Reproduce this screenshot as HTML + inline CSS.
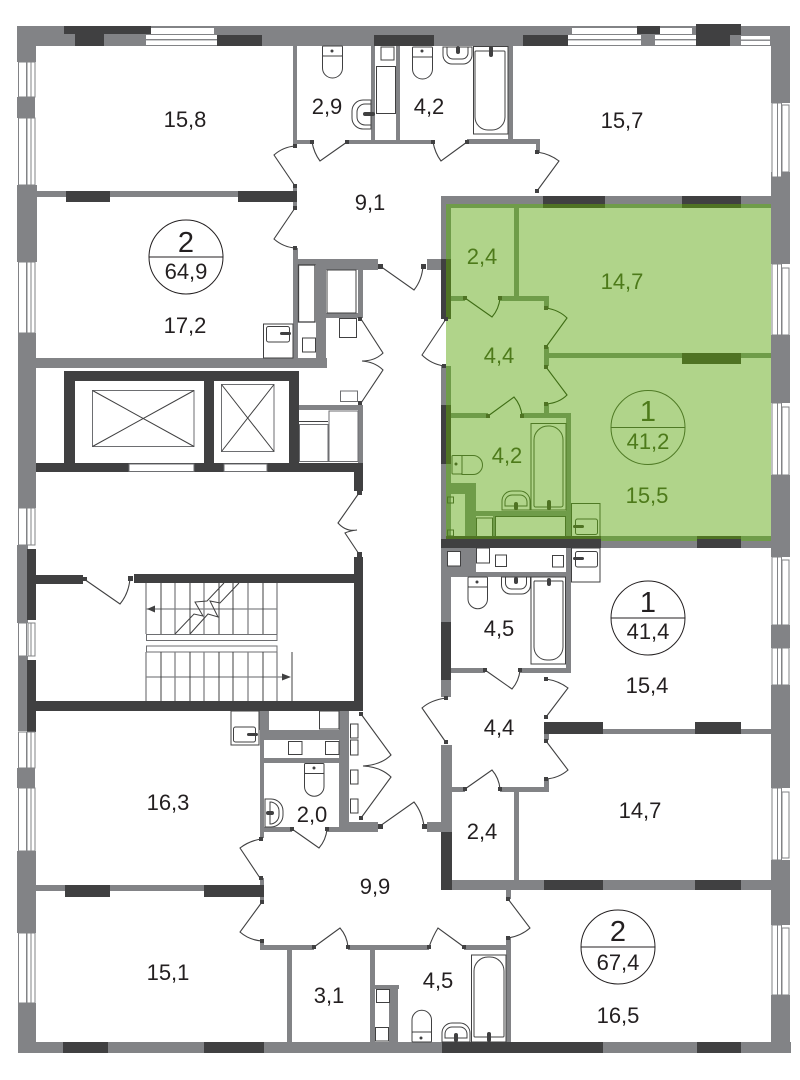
<!DOCTYPE html>
<html>
<head>
<meta charset="utf-8">
<style>
html,body{margin:0;padding:0;background:#fff;width:800px;height:1080px;overflow:hidden}
svg{display:block}
text{font-family:"Liberation Sans",Arial,sans-serif;font-size:22px;text-anchor:middle;fill:#231f20}
.g text{fill:#4d7a1a}
text.big{font-size:29px}
</style>
</head>
<body>
<svg width="800" height="1080" viewBox="0 0 800 1080" xmlns="http://www.w3.org/2000/svg">
<rect width="800" height="1080" fill="#fff"/>

<!-- green apartment -->
<rect x="446" y="204" width="325" height="336" fill="#b0d48a"/>

<!-- gray walls -->
<g fill="#828386">
<rect x="17" y="26" width="773" height="20"/>
<rect x="17" y="26" width="19" height="36"/>
<rect x="17" y="97" width="18" height="21"/>
<rect x="17" y="185" width="20" height="77"/>
<rect x="18" y="333" width="18" height="175"/>
<rect x="17" y="545" width="11" height="78"/>
<rect x="18" y="656" width="10" height="75"/>
<rect x="17" y="768" width="18" height="20"/>
<rect x="17" y="851" width="19" height="82"/>
<rect x="18" y="1003" width="18" height="50"/>
<rect x="18" y="1042" width="773" height="11"/>
<rect x="771" y="26" width="19" height="77"/>
<rect x="771" y="172" width="19" height="92"/>
<rect x="771" y="335" width="19" height="68"/>
<rect x="771" y="475" width="19" height="82"/>
<rect x="771" y="625" width="19" height="23"/>
<rect x="771" y="685" width="19" height="103"/>
<rect x="771" y="860" width="19" height="65"/>
<rect x="771" y="995" width="19" height="58"/>
<!-- top-left apt -->
<rect x="36" y="191" width="261" height="6"/>
<rect x="293" y="46" width="4" height="96"/>
<rect x="293" y="140" width="19" height="4"/>
<rect x="347" y="140" width="86" height="4"/>
<rect x="467" y="139" width="73" height="5"/>
<rect x="536" y="139" width="4" height="13"/>
<rect x="371" y="46" width="4" height="95"/>
<rect x="396" y="46" width="4" height="95"/>
<rect x="508" y="46" width="5" height="95"/>
<rect x="293" y="186" width="4" height="22"/>
<rect x="293" y="248" width="5" height="110"/>
<rect x="297" y="259" width="81" height="6"/>
<rect x="316" y="259" width="62" height="11"/>
<rect x="36" y="358" width="291" height="10"/>
<rect x="316" y="259" width="10" height="109"/>
<rect x="358" y="264" width="5" height="54"/>
<rect x="326" y="313" width="37" height="5"/>
<rect x="427" y="259" width="15" height="11"/>
<rect x="441" y="196" width="5" height="64"/>
<rect x="441" y="196" width="330" height="8"/>
<rect x="441" y="366" width="5" height="39"/>
<rect x="441" y="464" width="5" height="76"/>
<rect x="299" y="405" width="64" height="5"/>
<rect x="358" y="405" width="5" height="60"/>
<rect x="601" y="541" width="170" height="7"/>
<!-- lower right apt -->
<rect x="441" y="548" width="24" height="29"/>
<rect x="465" y="548" width="11" height="29"/>
<rect x="441" y="572" width="130" height="5"/>
<rect x="566" y="548" width="5" height="125"/>
<rect x="441" y="577" width="10" height="45"/>
<rect x="441" y="680" width="10" height="17"/>
<rect x="451" y="668" width="34" height="5"/>
<rect x="520" y="668" width="51" height="5"/>
<rect x="603" y="729" width="168" height="5"/>
<rect x="544" y="734" width="5" height="6"/>
<rect x="544" y="779" width="5" height="13"/>
<rect x="451" y="787" width="14" height="5"/>
<rect x="500" y="787" width="49" height="5"/>
<rect x="514" y="792" width="5" height="90"/>
<rect x="441" y="745" width="11" height="87"/>
<rect x="427" y="822" width="14" height="10"/>
<rect x="452" y="880" width="319" height="10"/>
<rect x="506" y="890" width="5" height="9"/>
<rect x="506" y="938" width="5" height="104"/>
<!-- lower left apt -->
<rect x="259" y="711" width="10" height="19"/>
<rect x="260" y="730" width="79" height="10"/>
<rect x="260" y="740" width="4" height="98"/>
<rect x="264" y="758" width="75" height="5"/>
<rect x="264" y="827" width="28" height="5"/>
<rect x="327" y="827" width="51" height="5"/>
<rect x="339" y="711" width="10" height="121"/>
<rect x="349" y="822" width="29" height="10"/>
<rect x="36" y="885" width="228" height="6"/>
<rect x="260" y="878" width="4" height="24"/>
<rect x="260" y="940" width="4" height="10"/>
<rect x="260" y="945" width="54" height="5"/>
<rect x="348" y="945" width="81" height="5"/>
<rect x="464" y="945" width="47" height="5"/>
<rect x="287" y="950" width="5" height="92"/>
<rect x="370" y="950" width="5" height="92"/>
<rect x="375" y="985" width="24" height="4"/>
<rect x="389" y="985" width="9" height="57"/>
</g>

<!-- green walls -->
<g fill="#6f9c49">
<rect x="446" y="204" width="325" height="4"/>
<rect x="446" y="204" width="5" height="115"/>
<rect x="446" y="366" width="5" height="172"/>
<rect x="514" y="208" width="5" height="88"/>
<rect x="451" y="296" width="14" height="5"/>
<rect x="500" y="296" width="49" height="5"/>
<rect x="544" y="296" width="5" height="12"/>
<rect x="544" y="347" width="5" height="19"/>
<rect x="546" y="353" width="225" height="5"/>
<rect x="544" y="404" width="5" height="12"/>
<rect x="451" y="413" width="37" height="5"/>
<rect x="522" y="413" width="49" height="5"/>
<rect x="566" y="413" width="5" height="125"/>
<rect x="446" y="483" width="30" height="11"/>
<rect x="465" y="483" width="11" height="55"/>
<rect x="476" y="511" width="90" height="5"/>
<rect x="493" y="516" width="2" height="21"/>
<rect x="446" y="536" width="325" height="5"/>
</g>
<g fill="#4f7323">
<rect x="543" y="204" width="62" height="4"/>
<rect x="682" y="204" width="59" height="4"/>
<rect x="682" y="353" width="59" height="11"/>
<rect x="446" y="259" width="5" height="60"/>
<rect x="446" y="405" width="5" height="59"/>
<rect x="446" y="536" width="155" height="3"/>
<rect x="697" y="536" width="44" height="3"/>
</g>

<!-- dark walls -->
<g fill="#404041">
<rect x="64" y="26" width="87" height="8"/>
<rect x="75" y="34" width="29" height="12"/>
<rect x="217" y="35" width="45" height="11"/>
<rect x="374" y="35" width="60" height="11"/>
<rect x="523" y="35" width="45" height="11"/>
<rect x="637" y="26" width="23" height="8"/>
<rect x="696" y="24" width="45" height="22"/>
<rect x="66" y="191" width="44" height="11"/>
<rect x="238" y="191" width="59" height="11"/>
<rect x="543" y="196" width="62" height="8"/>
<rect x="682" y="196" width="59" height="8"/>
<rect x="441" y="259" width="5" height="60"/>
<rect x="441" y="405" width="5" height="59"/>
<rect x="441" y="539" width="160" height="9"/>
<rect x="697" y="539" width="44" height="9"/>
<rect x="441" y="622" width="10" height="58"/>
<rect x="544" y="722" width="59" height="12"/>
<rect x="695" y="722" width="46" height="12"/>
<rect x="441" y="832" width="11" height="58"/>
<rect x="544" y="880" width="59" height="10"/>
<rect x="695" y="880" width="46" height="10"/>
<rect x="65" y="885" width="45" height="12"/>
<rect x="204" y="885" width="60" height="12"/>
<rect x="63" y="1042" width="45" height="11"/>
<rect x="204" y="1042" width="60" height="11"/>
<rect x="442" y="1042" width="161" height="11"/>
<rect x="697" y="1042" width="44" height="11"/>
<!-- core -->
<rect x="64" y="371" width="235" height="10"/>
<rect x="64" y="371" width="11" height="100"/>
<rect x="204" y="371" width="10" height="100"/>
<rect x="289" y="371" width="10" height="100"/>
<rect x="36" y="463" width="327" height="9"/>
<rect x="354" y="463" width="9" height="28"/>
<rect x="354" y="557" width="9" height="154"/>
<rect x="134" y="574" width="220" height="9"/>
<rect x="36" y="575" width="47" height="9"/>
<rect x="27" y="549" width="9" height="71"/>
<rect x="27" y="660" width="9" height="72"/>
<rect x="27" y="701" width="336" height="10"/>
</g>

<!-- windows top -->
<g>
<rect x="151" y="28" width="63" height="6" fill="#fff"/>
<rect x="146" y="35" width="71" height="10" fill="#fff"/><rect x="146" y="39" width="71" height="1.4" fill="#828386"/>
<rect x="572" y="28" width="65" height="6" fill="#fff"/>
<rect x="660" y="28" width="32" height="6" fill="#fff"/>
<rect x="568" y="35" width="128" height="10" fill="#fff"/><rect x="568" y="39" width="128" height="1.4" fill="#828386"/>
<rect x="641" y="35" width="14" height="10" fill="#828386"/>
<rect x="730" y="35" width="11" height="11" fill="#828386"/>
<rect x="741" y="36" width="29" height="9" fill="#fff"/><rect x="741" y="39.500" width="29" height="1.4" fill="#828386"/>
</g>

<!-- windows left/right -->
<g fill="#fff" stroke="#828386" stroke-width="1">
<path d="M18.500 62h8v35h-8zM27 62h4v35h-4zM31 62h4v35h-4z"/>
<path d="M18.500 118h8v67h-8zM27 118h4v67h-4zM31 118h4v67h-4z"/>
<path d="M18.500 262h8v71h-8zM27 262h4v71h-4zM31 262h4v71h-4z"/>
<path d="M18.500 508h8v37h-8zM27 508h4v37h-4zM31 508h4v37h-4z"/>
<path d="M18.500 623h8v33h-8zM28 623h3v33h-3zM31 623h4v33h-4z"/>
<path d="M18.500 732h8v36h-8zM27 732h4v36h-4zM31 732h4v36h-4z"/>
<path d="M18.500 788h8v63h-8zM27 788h4v63h-4zM31 788h4v63h-4z"/>
<path d="M18.500 933h8v70h-8zM27 933h4v70h-4zM31 933h4v70h-4z"/>
<!-- right -->
<path d="M772 103h5.500v74h-5.500zM777.500 103h4v74h-4zM782 105h7v67h-7z"/>
<path d="M772 264h5.500v71h-5.500zM777.500 264h4v71h-4zM782 268h7v67h-7z"/>
<path d="M772 403h5.500v72h-5.500zM777.500 403h4v72h-4zM782 407h7v68h-7z"/>
<path d="M772 557h5.500v68h-5.500zM777.500 557h4v68h-4zM782 560h7v65h-7z"/>
<path d="M772 648h5.500v37h-5.500zM777.500 648h4v37h-4zM782 648h7v37h-7z"/>
<path d="M772 788h5.500v72h-5.500zM777.500 788h4v72h-4zM782 792h7v66h-7z"/>
<path d="M772 925h5.500v70h-5.500zM777.500 925h4v70h-4zM782 928h7v67h-7z"/>
</g>

<!-- core details -->
<g fill="#fff" stroke="#6d6e71" stroke-width="1">
<rect x="129" y="464" width="65" height="7.500"/>
<rect x="224" y="464" width="43" height="7.500"/>
<rect x="92.500" y="390.500" width="101.500" height="56"/>
<rect x="221.500" y="384.500" width="52.500" height="67"/>
<rect x="299.500" y="424.500" width="28.500" height="37"/>
<rect x="329" y="411" width="29" height="50.500"/>
<rect x="340.500" y="391" width="17" height="10.500"/>
<rect x="146.500" y="634.500" width="130.500" height="6"/>
<rect x="146.500" y="646" width="130.500" height="6"/>
</g>
<g fill="none" stroke="#404041" stroke-width="1">
<path d="M92.500 390.500L194 446.500M194 390.500L92.500 446.500M221.500 384.500L274 451.500M274 384.500L221.500 451.500"/>
<path d="M299 421.500H328"/>
</g>

<!-- stairs -->
<g fill="none" stroke="#828386" stroke-width="1.300">
<path d="M146 583V634M175 583V634M204 583V634M248 583V634M277 583V634"/>
<path d="M146 652V701M175 652V701M204 652V701M248 652V701M277 652V701"/>
<path d="M146 609H277M146 677H283"/>
</g>
<g fill="none" stroke="#404041" stroke-width="1">
<path d="M161 583V634M190 583V634M219 583V634M233 583V634M263 583V634"/>
<path d="M161 652V701M190 652V701M219 652V701M233 652V701M263 652V701"/>
<path d="M224 583L207 601L195 602L203 616L194 614L175 634M239 583L220 603L210 601L218 617L208 614L190 634"/>
<path d="M292 652V701"/>
</g>
<path d="M147 609L155 605.500V612.500ZM291 677L282 673.500V680.500Z" fill="#404041"/>

<!-- fixtures neutral -->
<g fill="#fff" stroke="#404041" stroke-width="1">
<!-- shaft top -->
<rect x="381" y="47" width="13" height="13"/>
<rect x="376.500" y="66.500" width="19" height="47"/>
<rect x="298.500" y="265" width="16.500" height="57" stroke-width="1.300"/>
<rect x="302.500" y="338" width="13" height="14"/>
<rect x="327" y="270" width="29" height="43"/>
<rect x="339.500" y="318.500" width="17" height="19"/>
<!-- washers -->
<rect x="263.500" y="324" width="29.500" height="34"/>
<rect x="266.500" y="326.500" width="23" height="15.500" rx="2"/>
<rect x="571.500" y="548" width="28.500" height="34"/>
<rect x="575.500" y="551.500" width="22" height="15.500" rx="2"/>
<rect x="231" y="711" width="28" height="34"/>
<rect x="233.500" y="727" width="22" height="15" rx="2"/>
<!-- squares -->
<rect x="447.500" y="551.500" width="13" height="14.500"/>
<rect x="476.500" y="548" width="13" height="15"/>
<rect x="495.500" y="555" width="11" height="11.500"/>
<rect x="552.500" y="555.500" width="11" height="11.500"/>
<!-- lower left shaft -->
<rect x="350.500" y="724" width="7.500" height="14"/>
<rect x="350.500" y="740" width="7.500" height="15"/>
<rect x="350.500" y="770" width="7.500" height="14"/>
<rect x="350.500" y="799" width="7.500" height="14"/>
<rect x="288.500" y="741.500" width="13.500" height="13"/>
<rect x="325.500" y="741.500" width="13.500" height="13"/>
<rect x="319.500" y="711" width="19.500" height="18"/>
<rect x="376.500" y="989.500" width="13" height="13"/>
<rect x="375.500" y="1027.500" width="13" height="13.500"/>
<!-- toilets -->
<rect x="322.500" y="46" width="20" height="10" rx="1"/>
<path d="M322.500 56h20v12a10 10 0 0 1-20 0z"/>
<rect x="412.500" y="47" width="20" height="10" rx="1"/>
<path d="M412.500 57h20v12a10 10 0 0 1-20 0z"/>
<rect x="468" y="577" width="19.500" height="10" rx="1"/>
<path d="M468 587h19.500v12a9.700 9.700 0 0 1-19.500 0z"/>
<rect x="304.500" y="763.500" width="19.500" height="10" rx="1"/>
<path d="M304.500 773.500h19.500v13a9.700 9.700 0 0 1-19.500 0z"/>
<rect x="412" y="1032" width="19.500" height="10" rx="1"/>
<path d="M412 1032v-12a9.700 9.700 0 0 1 19.500 0v12z"/>
<!-- baths -->
<rect x="473.500" y="46.500" width="34.500" height="87.500"/>
<path d="M476 51h28a1 1 0 0 1 1 1v65a13 13 0 0 1-13 13h-4a13 13 0 0 1-13-13v-65a1 1 0 0 1 1-1z"/>
<rect x="531" y="577" width="34.500" height="87"/>
<path d="M534 581h28a1 1 0 0 1 1 1v65a13 13 0 0 1-13 13h-3a13 13 0 0 1-13-13v-65a1 1 0 0 1 1-1z"/>
<rect x="471.500" y="955" width="34.500" height="87"/>
<path d="M474 1036v-65a14 14 0 0 1 14-14h2a14 14 0 0 1 14 14v65a1 1 0 0 1-1 1h-28a1 1 0 0 1-1-1z"/>
<!-- sinks -->
<path d="M443 47h29v8a9 9 0 0 1-9 9h-11a9 9 0 0 1-9-9z"/>
<path d="M447 47h21v6a6 6 0 0 1-6 6h-9a6 6 0 0 1-6-6z"/>
<path d="M501.500 577h29v8a9 9 0 0 1-9 9h-11a9 9 0 0 1-9-9z"/>
<path d="M505.500 577h21v6a6 6 0 0 1-6 6h-9a6 6 0 0 1-6-6z"/>
<path d="M442 1042v-9a10 10 0 0 1 10-10h8a10 10 0 0 1 10 10v9z"/>
<path d="M445 1038v-4a7 7 0 0 1 7-7h8a7 7 0 0 1 7 7v4z"/>
<path d="M371 100v29h-8a11 11 0 0 1-11-11v-7a11 11 0 0 1 11-11z"/>
<path d="M371 104v21h-6a8 8 0 0 1-8-8v-5a8 8 0 0 1 8-8z"/>
<path d="M265 799h6a12 12 0 0 1 12 12v4a12 12 0 0 1-12 12h-6z"/>
<path d="M270 802a9 9 0 0 1 9 9v4a9 9 0 0 1-9 9z"/>
</g>
<g fill="#404041">
<circle cx="332" cy="51" r="1.500"/><circle cx="422" cy="51" r="1.500"/>
<circle cx="477" cy="582" r="1.500"/><circle cx="314" cy="768" r="1.500"/><circle cx="421" cy="1038" r="1.500"/>
<rect x="456" y="46" width="4" height="8" rx="2"/><rect x="489" y="46" width="4" height="11" rx="2"/>
<rect x="514" y="577" width="4" height="7" rx="2"/><rect x="547" y="578" width="4" height="8" rx="2"/>
<rect x="454" y="1033" width="4" height="9" rx="2"/><rect x="487" y="1032" width="4" height="10" rx="2"/>
<rect x="363" y="112" width="12" height="4" rx="2"/><rect x="266" y="811" width="8" height="4" rx="2"/>
<rect x="280" y="332" width="11" height="3" rx="1.500"/><rect x="573" y="557" width="11" height="3" rx="1.500"/><rect x="247" y="733" width="11" height="3" rx="1.500"/>
</g>

<!-- green fixtures -->
<g fill="none" stroke="#4f7a25" stroke-width="1">
<rect x="531" y="423.500" width="35" height="86.500"/>
<path d="M534 505v-65a14 14 0 0 1 14-14h2a14 14 0 0 1 13 14v65a2 2 0 0 1-2 2h-26a2 2 0 0 1-1-2z"/>
<rect x="452" y="455.500" width="10" height="18.500" rx="1"/>
<path d="M462 455.500h11a9.500 9.500 0 0 1 0 19h-11z"/>
<path d="M502 510v-9a10 10 0 0 1 10-10h8a10 10 0 0 1 10 10v9z"/>
<path d="M505 506v-4a7 7 0 0 1 7-7h8a7 7 0 0 1 7 7v4z"/>
<rect x="571.500" y="503.500" width="28.500" height="34"/>
<rect x="575.500" y="519" width="22" height="15.500" rx="2"/>
<rect x="447.500" y="497" width="6" height="6"/>
<rect x="447.500" y="530" width="6" height="6"/>
<rect x="476.500" y="518" width="16" height="18.500"/>
<rect x="495.500" y="516.500" width="70" height="20"/>
</g>
<g fill="#4f7323">
<circle cx="456" cy="464" r="1.500"/>
<rect x="514" y="502" width="4" height="8" rx="2"/><rect x="547" y="500" width="4" height="10" rx="2"/>
<rect x="573" y="525" width="11" height="3" rx="1.500"/>
</g>

<!-- doors -->
<g fill="none" stroke="#404041" stroke-width="1.100">
<path d="M295 146Q283 147 274 155L295 186"/>
<path d="M295 208L274 239Q283 247 295 248"/>
<path d="M312 142Q314 153 320 161L347 142"/>
<path d="M433 142Q435 153 441 161L467 142"/>
<path d="M537 152Q550 154 559 161L537 191"/>
<path d="M380 266L414 290Q422 280 423 266"/>
<path d="M361 319L383 353Q375 361 362 361Q375 362 383 370L361 403"/>
<path d="M359 493L338 523Q346 532 357 530Q349 531 345 533L359 554"/>
<path d="M84 579L120 604Q129 593 130 578"/>
<path d="M446 319L422 355Q431 364 444 366"/>
<path d="M446 698Q431 700 422 708L445 741"/>
<path d="M485 670L512 689Q519 681 520 670"/>
<path d="M546 679Q559 681 568 688L546 717"/>
<path d="M546 741L568 770Q559 778 546 779"/>
<path d="M465 789L492 770Q499 778 500 789"/>
<path d="M508 899L530 928Q521 936 508 938"/>
<path d="M429 947Q433 936 438 928L464 947"/>
<path d="M314 947L340 928Q347 936 348 947"/>
<path d="M261 839Q249 841 240 848L260 878"/>
<path d="M262 902L240 932Q249 940 262 941"/>
<path d="M292 829L319 848Q326 840 327 829"/>
<path d="M380 826L414 802Q422 812 424 826"/>
<path d="M361 714L391 755Q381 765 363 766Q381 767 391 777L361 818"/>
</g>
<g fill="none" stroke="#3f6d15" stroke-width="1.100">
<path d="M465 298L492 317Q499 309 500 298"/>
<path d="M546 308Q559 310 567 318L546 347"/>
<path d="M546 367L567 395Q559 403 546 404"/>
<path d="M488 416L514 397Q521 405 522 416"/>
</g>
<!-- hinges -->
<g fill="#404041">
<path d="M293 144h4v4h-4zM293 184h4v4h-4zM293 206h4v4h-4zM293 246h4v4h-4zM310 140h4v4h-4zM345 140h4v4h-4zM431 140h4v4h-4zM465 140h4v4h-4zM535 150h4v4h-4zM535 189h4v4h-4zM378 264h5v5h-5zM421 264h5v5h-5zM358 317h4v4h-4zM358 401h4v4h-4zM357 491h5v4h-5zM357 552h5v5h-5zM83 577h4v4h-4zM128 576h5v5h-5zM444 317h4v4h-4zM442 364h4v4h-4zM444 696h4v4h-4zM444 740h4v4h-4zM483 668h4v4h-4zM518 668h4v4h-4zM544 677h4v4h-4zM544 715h4v4h-4zM544 739h4v4h-4zM544 777h4v4h-4zM463 787h4v4h-4zM498 787h4v4h-4zM506 897h4v4h-4zM506 936h4v4h-4zM427 945h4v4h-4zM462 945h4v4h-4zM312 945h4v4h-4zM346 945h4v4h-4zM259 837h4v4h-4zM259 876h4v4h-4zM260 900h4v4h-4zM260 939h4v4h-4zM290 827h4v4h-4zM325 827h4v4h-4zM378 824h5v5h-5zM422 824h5v5h-5zM359 712h4v4h-4zM359 816h4v4h-4z"/>
</g>
<g fill="#4f7323">
<path d="M463 296h4v4h-4zM498 296h4v4h-4zM544 306h4v4h-4zM544 345h4v4h-4zM544 365h4v4h-4zM544 402h4v4h-4zM486 414h4v4h-4zM520 414h4v4h-4z"/>
</g>

<!-- circles -->
<g fill="none" stroke="#231f20" stroke-width="1">
<circle cx="186" cy="257" r="37"/><path d="M149 257H223"/>
<circle cx="648" cy="618" r="37"/><path d="M611 618H685"/>
<circle cx="618" cy="947" r="37"/><path d="M581 947H655"/>
</g>
<g fill="none" stroke="#4f7a25" stroke-width="1">
<circle cx="648" cy="427.500" r="37"/><path d="M611 427.500H685"/>
</g>

<!-- labels -->
<text x="185" y="127">15,8</text>
<text x="327" y="114">2,9</text>
<text x="370" y="210">9,1</text>
<text x="429" y="114">4,2</text>
<text x="622" y="128">15,7</text>
<text x="186" y="252" class="big">2</text>
<text x="186" y="279">64,9</text>
<text x="185" y="333">17,2</text>
<text x="499" y="636">4,5</text>
<text x="648" y="612" class="big">1</text>
<text x="648" y="639">41,4</text>
<text x="647" y="693">15,4</text>
<text x="499" y="735">4,4</text>
<text x="640" y="818">14,7</text>
<text x="482" y="839">2,4</text>
<text x="618" y="941" class="big">2</text>
<text x="618" y="970">67,4</text>
<text x="618" y="1023">16,5</text>
<text x="438" y="988">4,5</text>
<text x="375" y="894">9,9</text>
<text x="168" y="810">16,3</text>
<text x="312" y="822">2,0</text>
<text x="168" y="980">15,1</text>
<text x="329" y="1003">3,1</text>
<g class="g">
<text x="482" y="264">2,4</text>
<text x="622" y="289">14,7</text>
<text x="499" y="363">4,4</text>
<text x="507" y="463">4,2</text>
<text x="648" y="421" class="big">1</text>
<text x="648" y="449">41,2</text>
<text x="647" y="503">15,5</text>
</g>
</svg>
</body>
</html>
